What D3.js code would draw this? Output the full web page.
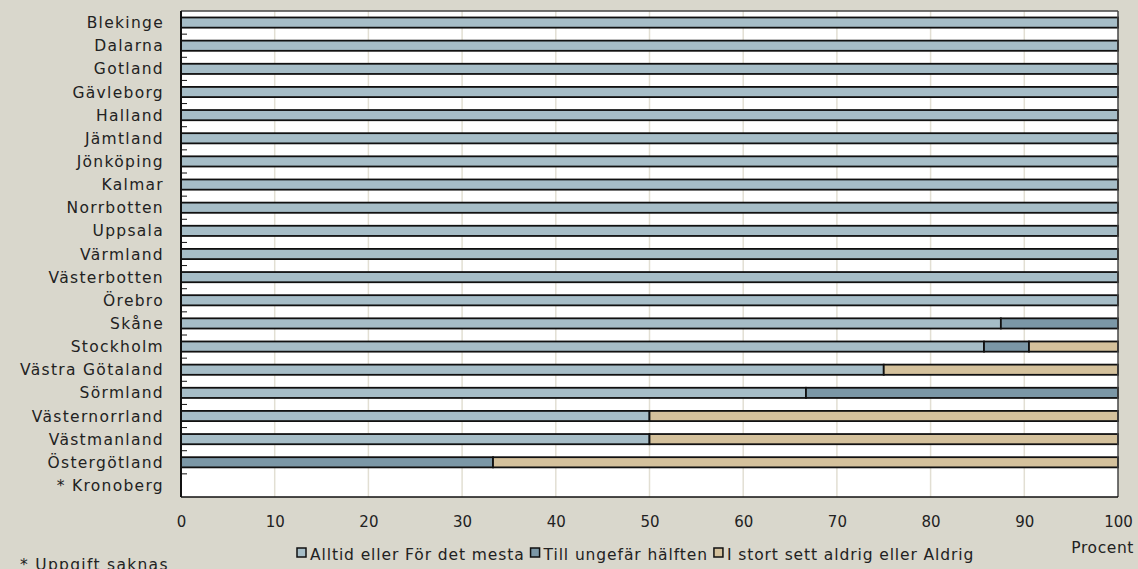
<!DOCTYPE html>
<html><head><meta charset="utf-8">
<script src="https://cdn.jsdelivr.net/npm/d3@7/dist/d3.min.js"></script>
<style>html,body{margin:0;padding:0;background:#d9d7cc;}svg{display:block;font-family:"DejaVu Sans",sans-serif;}</style>
</head><body>
<script>
const categories = ["Blekinge","Dalarna","Gotland","Gävleborg","Halland","Jämtland","Jönköping","Kalmar","Norrbotten","Uppsala","Värmland","Västerbotten","Örebro","Skåne","Stockholm","Västra Götaland","Sörmland","Västernorrland","Västmanland","Östergötland","* Kronoberg"];
const seriesNames = ["Alltid eller För det mesta","Till ungefär hälften","I stort sett aldrig eller Aldrig"];
const alltid =  [100,100,100,100,100,100,100,100,100,100,100,100,100,87.5,85.7,75,66.7,50,50,0,0];
const halften = [0,0,0,0,0,0,0,0,0,0,0,0,0,12.5,4.8,0,33.3,0,0,33.3,0];
const aldrig =  [0,0,0,0,0,0,0,0,0,0,0,0,0,0,9.5,25,0,50,50,66.7,0];
const xTicks = [0,10,20,30,40,50,60,70,80,90,100];
const colors = ["#a6bdc7","#7b97a6","#d4c19c"];

const W=1138,H=569;
const m={l:181,r:1118,t:11,b:497};
const svg=d3.select("body").append("svg").attr("width",W).attr("height",H);
svg.append("rect").attr("width",W).attr("height",H).attr("fill","#d9d7cc");

const x=d3.scaleLinear().domain([0,100]).range([m.l,m.r]);
const y=d3.scaleBand().domain(categories).range([m.t,m.b]).paddingInner(0.56).paddingOuter(0.28);
const yb=d3.scaleBand().domain(categories).range([m.t,m.b]);

svg.append("rect").attr("x",m.l).attr("y",m.t).attr("width",m.r-m.l).attr("height",m.b-m.t).attr("fill","#fff");
svg.append("g").selectAll("line").data(xTicks.slice(1,-1)).join("line")
  .attr("x1",d=>x(d)).attr("x2",d=>x(d)).attr("y1",m.t).attr("y2",m.b)
  .attr("stroke","#e2dfd3").attr("stroke-width",1.5);

const rows=categories.map((c,i)=>({c,vals:[alltid[i],halften[i],aldrig[i]]}));
const stack=d3.stack().keys([0,1,2]).value((d,k)=>d.vals[k]);
const series=stack(rows);
series.forEach((s,k)=>{
  svg.append("g").selectAll("rect").data(s.filter(d=>d[1]-d[0]>0)).join("rect")
    .attr("x",d=>x(d[0])).attr("width",d=>x(d[1])-x(d[0]))
    .attr("y",d=>y(d.data.c)).attr("height",y.bandwidth())
    .attr("fill",colors[k]).attr("stroke","#111").attr("stroke-width",1.8);
});

svg.append("line").attr("x1",m.l).attr("x2",m.r).attr("y1",m.t).attr("y2",m.t).attr("stroke","#444").attr("stroke-width",1.5);
svg.append("line").attr("x1",m.r).attr("x2",m.r).attr("y1",m.t).attr("y2",m.b).attr("stroke","#444").attr("stroke-width",1.5);
svg.append("line").attr("x1",m.l).attr("x2",m.r).attr("y1",m.b).attr("y2",m.b).attr("stroke","#111").attr("stroke-width",1.5);
svg.append("line").attr("x1",m.l).attr("x2",m.l).attr("y1",m.t).attr("y2",m.b).attr("stroke","#111").attr("stroke-width",2);

svg.append("g").selectAll("line").data(categories.slice(1)).join("line")
  .attr("x1",m.l).attr("x2",m.l+6).attr("y1",d=>yb(d)).attr("y2",d=>yb(d))
  .attr("stroke","#111").attr("stroke-width",1);

const labelStyle=sel=>sel.attr("font-size",15.5).attr("letter-spacing","1.3px").attr("fill","#222");

svg.append("g").selectAll("text").data(categories).join("text")
  .attr("x",164).attr("y",d=>yb(d)+yb.bandwidth()/2).attr("dy","0.36em")
  .attr("text-anchor","end").call(labelStyle).text(d=>d);

const xa=d3.axisBottom(x).tickValues(xTicks).tickSize(0).tickPadding(0).tickFormat(d3.format("d"));
const gx=svg.append("g").attr("transform",`translate(0,${m.b})`).call(xa);
gx.select(".domain").remove();
gx.selectAll("text").attr("y",30).attr("dy",0).attr("font-size",15).attr("fill","#222").attr("font-family","DejaVu Sans");

svg.append("text").attr("x",1134).attr("y",553).attr("text-anchor","end").call(labelStyle).attr("letter-spacing","0.6px").text("Procent");
svg.append("text").attr("x",20).attr("y",570).call(labelStyle).text("* Uppgift saknas");

const lg=svg.append("g");
let lx=297;
seriesNames.forEach((n,i)=>{
  lg.append("rect").attr("x",lx).attr("y",548).attr("width",9).attr("height",9).attr("fill",colors[i]).attr("stroke","#111").attr("stroke-width",1.5);
  const t=lg.append("text").attr("x",lx+13).attr("y",560).call(labelStyle).attr("letter-spacing","0.9px").text(n);
  lx+=13+t.node().getComputedTextLength()+6;
});
</script>
</body></html>
